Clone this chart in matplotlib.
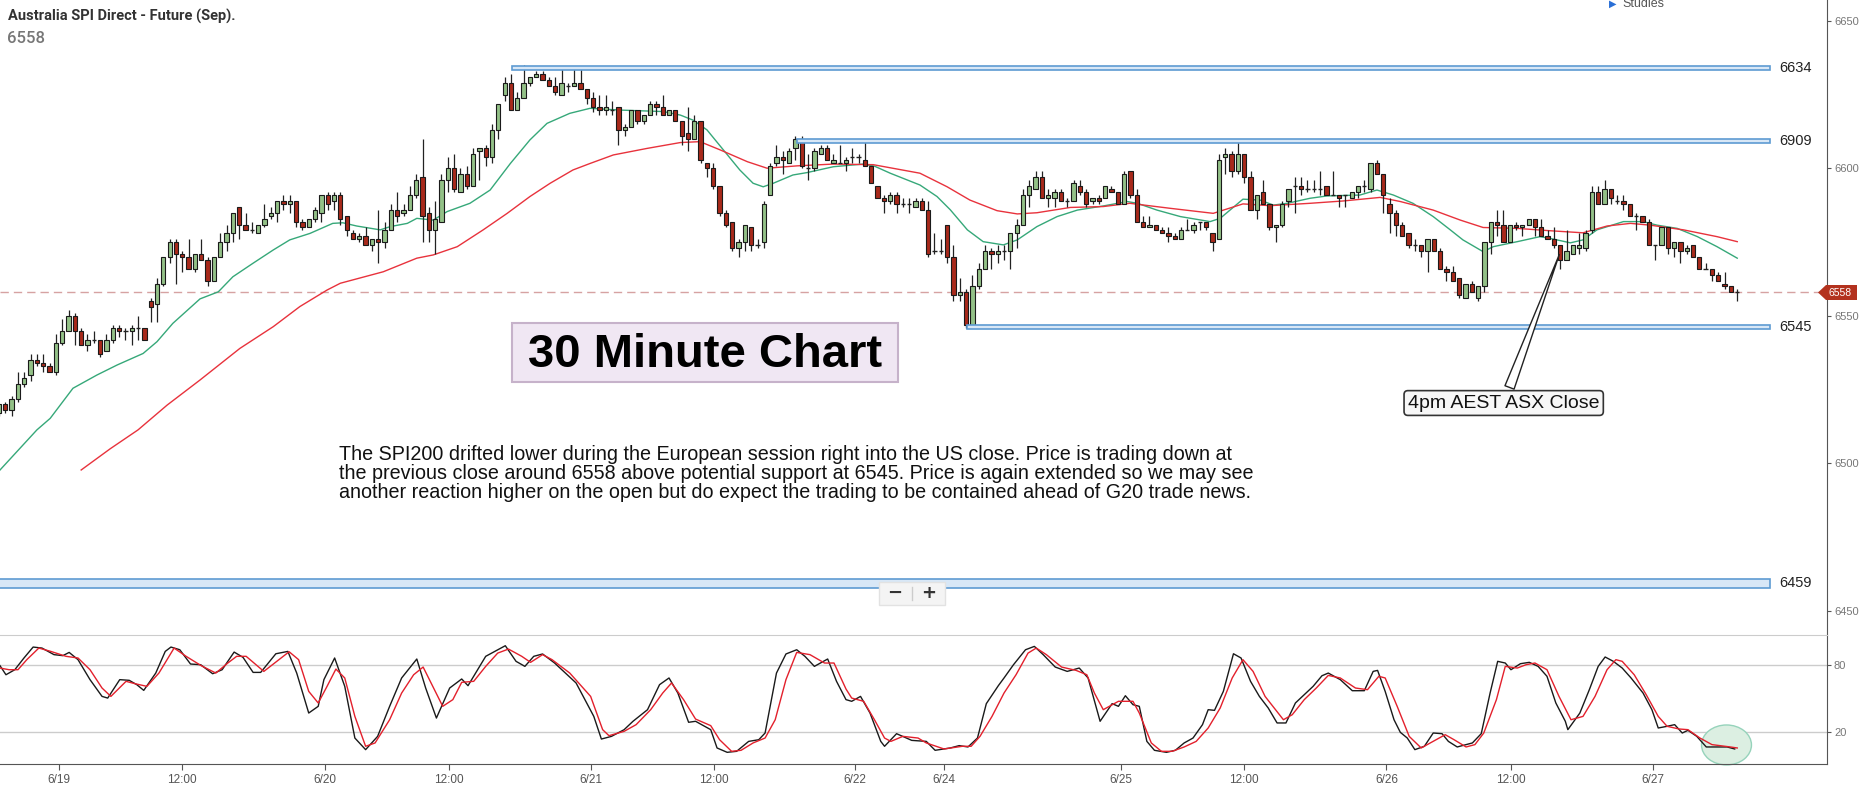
import matplotlib
matplotlib.use('Agg')
import matplotlib.pyplot as plt
from matplotlib.patches import Rectangle, Polygon, Ellipse
import numpy as np

plt.rcParams['font.family'] = ['Liberation Sans', 'DejaVu Sans']

# 30 minute bars, Australia SPI 200 (Sep) future
opens = [
    6517, 6520, 6518, 6522, 6527, 6530, 6535, 6534, 6533, 6531, 6541, 6545,
    6550, 6545, 6540, 6542, 6542, 6538, 6542, 6546, 6545, 6545, 6546, 6546,
    6555, 6554, 6561, 6570, 6575, 6571, 6570, 6566, 6571, 6569, 6562, 6570,
    6575, 6578, 6587, 6581, 6579, 6578, 6581, 6584, 6585, 6589, 6588, 6589,
    6582, 6580, 6583, 6585, 6591, 6589, 6591, 6584, 6578, 6576, 6577, 6574,
    6576, 6575, 6579, 6586, 6585, 6586, 6591, 6597, 6585, 6579, 6582, 6596,
    6600, 6592, 6598, 6594, 6606, 6607, 6604, 6613, 6625, 6629, 6620, 6624,
    6629, 6631, 6632, 6630, 6628, 6625, 6628, 6628, 6629, 6627, 6624, 6621,
    6620, 6620, 6621, 6613, 6614, 6620, 6616, 6618, 6622, 6621, 6618, 6620,
    6616, 6612, 6610, 6616, 6602, 6600, 6594, 6585, 6582, 6573, 6575, 6580,
    6574, 6575, 6591, 6602, 6604, 6602, 6607, 6610, 6600, 6600, 6605, 6607,
    6602, 6602, 6602, 6604, 6604, 6603, 6601, 6594, 6590, 6589, 6591, 6588,
    6588, 6587, 6589, 6586, 6572, 6572, 6581, 6570, 6557, 6558, 6547, 6560,
    6566, 6572, 6571, 6572, 6572, 6578, 6581, 6591, 6593, 6597, 6590, 6590,
    6592, 6589, 6589, 6594, 6592, 6589, 6590, 6590, 6593, 6592, 6588, 6599,
    6591, 6582, 6580, 6581, 6579, 6578, 6577, 6576, 6579, 6579, 6582, 6582,
    6578, 6576, 6604, 6605, 6599, 6605, 6597, 6586, 6592, 6588, 6580, 6581,
    6589, 6594, 6594, 6593, 6593, 6593, 6594, 6591, 6591, 6591, 6590, 6592,
    6594, 6593, 6602, 6598, 6588, 6585, 6581, 6578, 6574, 6574, 6572, 6576,
    6572, 6566, 6565, 6563, 6556, 6561, 6556, 6560, 6575, 6582, 6581, 6575,
    6581, 6580, 6581, 6583, 6580, 6577, 6576, 6574, 6569, 6571, 6573, 6573,
    6579, 6592, 6588, 6593, 6589, 6589, 6588, 6584, 6584, 6582, 6574, 6574,
    6580, 6573, 6575, 6572, 6574, 6570, 6566, 6566, 6564, 6561, 6560, 6558,
]
highs = [
    6520, 6521, 6523, 6531, 6531, 6537, 6537, 6537, 6534, 6544, 6549, 6552,
    6551, 6546, 6544, 6545, 6542, 6544, 6547, 6547, 6546, 6547, 6550, 6546,
    6556, 6563, 6570, 6576, 6576, 6572, 6576, 6571, 6576, 6570, 6570, 6578,
    6581, 6585, 6587, 6585, 6582, 6581, 6588, 6587, 6589, 6591, 6591, 6589,
    6583, 6583, 6587, 6591, 6592, 6592, 6592, 6584, 6579, 6578, 6580, 6576,
    6586, 6582, 6588, 6592, 6588, 6594, 6598, 6610, 6587, 6589, 6598, 6604,
    6605, 6600, 6601, 6607, 6607, 6608, 6615, 6622, 6631, 6632, 6626, 6635,
    6631, 6633, 6633, 6631, 6631, 6634, 6629, 6634, 6634, 6627, 6626, 6625,
    6625, 6623, 6621, 6615, 6620, 6620, 6618, 6623, 6623, 6625, 6620, 6620,
    6616, 6621, 6618, 6616, 6602, 6602, 6594, 6586, 6582, 6576, 6581, 6580,
    6576, 6589, 6602, 6608, 6606, 6607, 6611, 6611, 6605, 6607, 6608, 6608,
    6605, 6608, 6604, 6607, 6605, 6609, 6601, 6594, 6591, 6592, 6592, 6590,
    6590, 6590, 6590, 6589, 6578, 6576, 6581, 6574, 6563, 6559, 6564, 6568,
    6574, 6573, 6574, 6574, 6578, 6583, 6593, 6596, 6599, 6599, 6593, 6593,
    6593, 6590, 6596, 6596, 6593, 6590, 6591, 6594, 6594, 6592, 6599, 6599,
    6593, 6584, 6584, 6581, 6580, 6580, 6578, 6580, 6583, 6582, 6582, 6582,
    6578, 6605, 6607, 6606, 6610, 6605, 6599, 6591, 6596, 6588, 6581, 6589,
    6593, 6597, 6597, 6596, 6596, 6599, 6594, 6599, 6591, 6591, 6592, 6594,
    6596, 6602, 6603, 6598, 6590, 6586, 6582, 6578, 6576, 6574, 6576, 6576,
    6573, 6567, 6567, 6563, 6561, 6562, 6560, 6575, 6582, 6586, 6586, 6581,
    6582, 6581, 6583, 6583, 6583, 6579, 6580, 6574, 6579, 6574, 6578, 6579,
    6594, 6594, 6596, 6593, 6591, 6591, 6588, 6585, 6584, 6583, 6574, 6580,
    6580, 6575, 6575, 6574, 6574, 6570, 6568, 6566, 6565, 6565, 6560, 6559,
]
lows = [
    6516, 6517, 6516, 6521, 6526, 6528, 6533, 6531, 6531, 6530, 6540, 6545,
    6540, 6540, 6538, 6541, 6536, 6538, 6541, 6543, 6542, 6540, 6542, 6542,
    6548, 6548, 6560, 6568, 6561, 6565, 6566, 6565, 6569, 6560, 6562, 6570,
    6572, 6575, 6576, 6579, 6578, 6578, 6580, 6583, 6582, 6586, 6585, 6580,
    6579, 6580, 6582, 6582, 6586, 6586, 6581, 6577, 6576, 6575, 6574, 6572,
    6568, 6573, 6579, 6582, 6584, 6586, 6590, 6575, 6575, 6571, 6582, 6592,
    6592, 6592, 6593, 6594, 6596, 6601, 6602, 6610, 6623, 6620, 6620, 6624,
    6628, 6631, 6630, 6628, 6625, 6625, 6626, 6628, 6627, 6622, 6619, 6618,
    6618, 6618, 6608, 6611, 6614, 6615, 6615, 6618, 6618, 6618, 6618, 6616,
    6608, 6606, 6610, 6602, 6597, 6593, 6584, 6580, 6572, 6570, 6572, 6572,
    6573, 6573, 6591, 6601, 6598, 6602, 6603, 6600, 6596, 6599, 6605, 6603,
    6602, 6602, 6599, 6602, 6602, 6601, 6595, 6590, 6585, 6588, 6585, 6587,
    6585, 6587, 6586, 6570, 6571, 6571, 6568, 6555, 6555, 6546, 6547, 6559,
    6566, 6566, 6568, 6569, 6566, 6573, 6581, 6587, 6593, 6590, 6587, 6587,
    6589, 6587, 6589, 6591, 6587, 6588, 6588, 6590, 6592, 6588, 6588, 6590,
    6582, 6580, 6580, 6579, 6578, 6575, 6576, 6576, 6579, 6578, 6579, 6579,
    6572, 6576, 6598, 6597, 6598, 6595, 6586, 6583, 6588, 6579, 6575, 6580,
    6587, 6585, 6591, 6592, 6592, 6591, 6591, 6591, 6587, 6587, 6590, 6590,
    6592, 6592, 6598, 6585, 6578, 6577, 6577, 6573, 6572, 6570, 6565, 6572,
    6566, 6562, 6562, 6556, 6556, 6558, 6555, 6558, 6571, 6577, 6575, 6575,
    6579, 6577, 6581, 6577, 6577, 6576, 6573, 6566, 6569, 6571, 6571, 6572,
    6578, 6588, 6588, 6588, 6588, 6586, 6584, 6579, 6582, 6574, 6569, 6574,
    6571, 6570, 6568, 6571, 6570, 6566, 6566, 6562, 6562, 6559, 6558, 6555,
]
closes = [
    6520, 6518, 6522, 6527, 6529, 6535, 6534, 6533, 6531, 6541, 6545, 6550,
    6545, 6540, 6542, 6542, 6537, 6542, 6546, 6545, 6545, 6546, 6546, 6542,
    6553, 6561, 6570, 6575, 6571, 6570, 6566, 6571, 6569, 6562, 6570, 6575,
    6578, 6585, 6581, 6579, 6579, 6581, 6583, 6585, 6589, 6588, 6589, 6582,
    6580, 6583, 6586, 6591, 6588, 6591, 6583, 6579, 6576, 6577, 6574, 6576,
    6575, 6579, 6586, 6584, 6586, 6591, 6596, 6584, 6579, 6583, 6596, 6600,
    6593, 6598, 6594, 6605, 6607, 6604, 6613, 6622, 6629, 6620, 6624, 6629,
    6631, 6632, 6630, 6628, 6626, 6629, 6628, 6629, 6627, 6624, 6621, 6620,
    6621, 6620, 6613, 6614, 6620, 6616, 6618, 6622, 6621, 6618, 6620, 6616,
    6611, 6610, 6616, 6603, 6600, 6594, 6585, 6581, 6573, 6575, 6581, 6574,
    6574, 6588, 6601, 6604, 6603, 6606, 6610, 6601, 6600, 6606, 6607, 6603,
    6603, 6602, 6603, 6604, 6604, 6601, 6595, 6590, 6589, 6591, 6588, 6588,
    6588, 6589, 6586, 6571, 6572, 6572, 6570, 6557, 6558, 6547, 6560, 6566,
    6572, 6571, 6572, 6572, 6578, 6581, 6591, 6594, 6597, 6590, 6591, 6592,
    6589, 6589, 6595, 6592, 6588, 6590, 6589, 6594, 6592, 6588, 6598, 6591,
    6582, 6580, 6581, 6579, 6578, 6577, 6576, 6579, 6579, 6581, 6582, 6580,
    6575, 6603, 6605, 6599, 6605, 6597, 6586, 6591, 6588, 6580, 6581, 6588,
    6593, 6594, 6593, 6593, 6593, 6593, 6591, 6591, 6590, 6591, 6592, 6594,
    6594, 6602, 6598, 6591, 6585, 6581, 6577, 6574, 6574, 6572, 6576, 6572,
    6566, 6565, 6562, 6557, 6561, 6558, 6560, 6575, 6582, 6581, 6575, 6581,
    6580, 6581, 6583, 6580, 6577, 6576, 6574, 6569, 6572, 6574, 6574, 6578,
    6592, 6588, 6593, 6590, 6589, 6588, 6584, 6584, 6582, 6574, 6574, 6580,
    6573, 6575, 6572, 6573, 6570, 6566, 6566, 6564, 6562, 6560, 6558, 6558,
]

# moving averages (bar index, price)
fast_x = [0.16, 6.0, 8.1, 11.7, 15.5, 18.7, 22.8, 25.0, 27.5, 31.8, 34.7, 37.0,
          40.2, 43.4, 46.0, 49.2, 52.8, 54.4, 56.6, 60.3, 61.9, 64.6, 66.1, 68.7,
          70.9, 74.5, 77.7, 80.9, 84.0, 86.7, 90.3, 93.5, 98.3, 105.1, 107.8, 109.8,
          112.0, 114.6, 117.2, 119.3, 120.9, 122.5, 125.6, 127.8, 132.0, 136.7, 138.5, 141.0,
          145.7, 148.4, 150.5, 153.2, 155.7, 158.9, 161.1, 164.2, 167.4, 170.6, 174.7, 178.5,
          180.1, 183.2, 186.9, 191.6, 193.2, 196.8, 199.5, 201.6, 203.8, 207.4, 210.1, 215.3,
          218.0, 220.6, 223.7, 226.9, 229.6, 231.6, 234.8, 236.4, 240.2, 243.8, 245.4, 248.6,
          250.6, 252.8, 257.0, 260.1, 262.3, 265.5, 268.7, 271.8, 275.0]
fast_y = [6497.8, 6511.4, 6515.3, 6525.5, 6530.0, 6533.4, 6537.3, 6541.3, 6547.5, 6555.8, 6558.2, 6563.3,
          6567.9, 6572.4, 6575.8, 6578.0, 6581.4, 6581.6, 6580.5, 6579.2, 6580.3, 6581.4, 6583.1, 6582.5,
          6585.4, 6588.2, 6592.7, 6601.7, 6609.7, 6615.3, 6618.7, 6620.4, 6619.8, 6619.3, 6618.1, 6616.4,
          6613.1, 6606.3, 6599.5, 6595.0, 6593.8, 6595.0, 6597.8, 6598.6, 6600.6, 6601.5, 6600.8, 6598.4,
          6594.4, 6590.5, 6586.0, 6579.2, 6575.2, 6574.1, 6575.8, 6580.3, 6583.7, 6585.9, 6587.3, 6588.8,
          6588.2, 6585.9, 6583.7, 6582.0, 6583.1, 6589.6, 6589.3, 6587.6, 6588.2, 6589.9, 6590.7, 6591.0,
          6592.7, 6591.0, 6588.2, 6583.7, 6579.2, 6575.8, 6571.8, 6573.5, 6575.2, 6576.9, 6576.3, 6574.8,
          6575.8, 6579.2, 6582.0, 6582.0, 6580.8, 6579.7, 6576.9, 6573.5, 6569.6]
slow_x = [13.0, 17.6, 22.0, 26.6, 31.8, 38.1, 43.4, 47.6, 51.9, 54.0, 60.8, 66.1,
          68.7, 72.5, 76.6, 80.4, 84.0, 87.2, 90.8, 93.5, 97.2, 102.5, 107.8, 110.9,
          114.1, 118.4, 121.5, 126.3, 132.0, 138.3, 145.7, 150.0, 153.6, 157.9, 161.1, 164.2,
          169.5, 174.7, 178.9, 185.3, 192.1, 196.8, 201.1, 207.4, 212.7, 218.5, 221.7, 226.9,
          231.2, 234.8, 240.2, 245.4, 250.6, 254.4, 258.1, 261.2, 266.5, 271.8, 275.0]
slow_y = [6497.8, 6505.0, 6511.4, 6519.8, 6528.3, 6539.0, 6546.4, 6553.2, 6558.8, 6561.1, 6565.0, 6569.6,
          6570.7, 6573.5, 6579.2, 6584.8, 6590.5, 6595.0, 6599.5, 6601.7, 6604.6, 6606.8, 6608.8, 6609.1,
          6606.3, 6602.3, 6600.1, 6600.9, 6601.5, 6601.3, 6598.4, 6593.8, 6589.3, 6585.7, 6584.6, 6585.0,
          6586.8, 6587.1, 6588.2, 6586.5, 6584.8, 6588.0, 6587.4, 6588.2, 6589.0, 6590.2, 6588.8, 6585.9,
          6582.5, 6580.0, 6579.7, 6578.9, 6578.2, 6580.5, 6581.4, 6580.8, 6579.2, 6576.9, 6575.2]

# stochastic %K / %D
k_x = [0.16, 1.1, 2.5, 3.95, 5.4, 6.8, 8.7, 10.1, 11.1, 12.5,
       14.4, 16.3, 17.2, 19.1, 20.6, 21.8, 22.9, 24.8, 26.3, 27.2,
       28.6, 30.3, 31.9, 33.8, 35.3, 37.2, 38.6, 40.2, 41.4, 43.8,
       45.7, 47.1, 49.0, 50.5, 51.4, 53.1, 54.7, 56.3, 58.0, 59.9,
       61.8, 63.7, 66.1, 67.5, 69.2, 71.3, 73.2, 74.2, 75.1, 77.0,
       80.1, 81.8, 83.2, 84.6, 86.0, 87.9, 91.3, 94.1, 95.3, 96.9,
       98.9, 100.3, 102.6, 104.5, 106.0, 107.4, 109.1, 110.2, 112.6, 113.6,
       115.2, 116.7, 118.6, 120.2, 121.2, 123.0, 124.5, 126.2, 127.5, 129.0,
       131.1, 132.5, 134.0, 134.9, 136.3, 137.8, 139.5, 140.1, 142.0, 144.4,
       146.7, 148.1, 150.5, 151.9, 153.3, 154.8, 156.2, 158.1, 159.0, 160.5,
       162.4, 163.8, 165.2, 167.1, 169.0, 170.9, 172.3, 174.2, 176.1, 177.1,
       178.2, 179.4, 180.4, 181.6, 182.8, 184.7, 186.1, 187.5, 188.9, 190.4,
       191.3, 192.3, 193.7, 195.3, 196.5, 198.0, 199.4, 200.8, 202.2, 203.6,
       205.1, 206.5, 207.9, 209.3, 210.3, 212.2, 214.1, 216.0, 217.4, 218.1,
       219.3, 220.7, 221.7, 222.8, 224.0, 225.5, 226.9, 228.3, 229.3, 230.7,
       232.1, 233.1, 234.5, 235.9, 237.1, 238.3, 239.2, 240.7, 242.1, 243.5,
       244.9, 246.3, 247.8, 248.2, 250.1, 251.6, 253.0, 254.1, 255.4, 256.8,
       258.2, 260.1, 261.5, 262.5, 263.9, 265.1, 266.3, 267.2, 268.6, 270.1,
       272.0, 273.4, 274.6]
k_y = [79.4, 71.3, 75.8, 86.3, 96.1, 95.2, 89.3, 88.4, 91.3, 84.8,
       66.9, 51.9, 50.4, 66.9, 66.3, 62.4, 57.3, 72.8, 92.2, 96.1,
       93.7, 80.9, 80.3, 72.2, 75.8, 91.6, 86.9, 73.4, 73.4, 90.1,
       92.2, 72.8, 37.0, 43.0, 66.9, 86.3, 60.9, 14.6, 4.2, 16.1,
       43.0, 68.4, 85.4, 59.4, 32.5, 59.4, 67.5, 61.5, 69.9, 87.8,
       97.3, 83.3, 78.8, 87.8, 89.9, 81.8, 63.9, 34.0, 13.7, 16.1,
       22.1, 29.6, 40.0, 62.4, 68.4, 54.9, 28.7, 29.6, 22.1, 5.7,
       1.8, 2.7, 11.6, 13.1, 19.1, 72.8, 89.9, 93.7, 87.8, 78.8,
       85.4, 65.4, 49.0, 47.5, 51.9, 37.0, 11.6, 7.2, 18.5, 12.5,
       11.6, 3.6, 5.7, 7.8, 6.6, 14.6, 45.4, 61.5, 68.4, 80.3,
       93.7, 96.7, 89.3, 78.2, 74.3, 77.3, 68.4, 29.6, 45.4, 43.0,
       52.5, 44.5, 43.0, 11.6, 3.6, 1.8, 3.6, 10.2, 14.6, 26.6,
       40.0, 39.4, 56.4, 90.1, 86.3, 65.4, 51.9, 41.5, 28.1, 28.1,
       46.0, 53.4, 60.9, 70.4, 72.8, 66.9, 57.0, 57.0, 74.3, 75.2,
       56.4, 31.0, 19.7, 14.6, 4.2, 7.2, 19.1, 18.5, 11.6, 6.6,
       8.7, 10.2, 18.5, 54.9, 83.3, 81.8, 75.8, 81.2, 82.4, 78.8,
       69.9, 46.0, 29.6, 22.1, 37.0, 57.9, 78.8, 87.2, 83.3, 77.3,
       68.4, 54.9, 40.0, 23.6, 25.1, 26.6, 19.1, 21.5, 16.1, 6.6,
       6.6, 6.6, 4.8]
d_x = [0.16, 1.6, 3.0, 4.4, 6.3, 8.2, 10.6, 12.5, 14.4, 16.3,
       17.7, 20.1, 21.5, 23.4, 25.3, 27.7, 29.6, 32.0, 34.3, 36.2,
       37.6, 39.1, 41.9, 44.3, 45.9, 47.4, 49.0, 50.5, 51.9, 53.3,
       54.7, 56.3, 58.0, 59.5, 61.8, 63.7, 65.6, 67.1, 68.5, 70.2,
       71.8, 73.2, 75.1, 77.0, 78.9, 80.6, 82.7, 84.1, 86.0, 87.5,
       90.3, 93.6, 95.5, 96.5, 98.9, 100.8, 103.1, 105.0, 106.4, 108.3,
       110.2, 112.6, 114.0, 115.9, 117.4, 119.3, 121.2, 122.8, 124.5, 126.2,
       128.3, 130.6, 132.1, 134.0, 134.9, 136.8, 138.5, 140.1, 141.1, 143.0,
       145.4, 146.7, 149.5, 152.4, 153.8, 155.2, 157.1, 159.0, 160.9, 162.8,
       164.1, 165.7, 168.1, 170.4, 172.1, 173.3, 174.7, 177.1, 179.4, 180.4,
       182.3, 183.9, 185.6, 187.5, 189.4, 191.3, 193.2, 195.1, 196.8, 198.4,
       200.3, 203.2, 204.6, 206.5, 208.4, 210.3, 212.2, 214.6, 216.5, 218.3,
       219.3, 221.2, 223.1, 225.0, 226.9, 228.8, 230.2, 232.1, 233.5, 234.9,
       236.9, 238.3, 240.2, 241.6, 243.0, 244.9, 246.8, 248.7, 250.6, 252.5,
       254.4, 255.8, 256.8, 258.7, 260.6, 262.5, 263.9, 265.8, 267.2, 269.1,
       271.0, 273.9, 275.0]
d_y = [77.3, 75.8, 75.8, 84.8, 95.2, 92.2, 87.8, 86.3, 75.8, 59.4,
       51.9, 65.4, 63.3, 60.9, 72.8, 95.2, 87.8, 79.4, 72.8, 81.8,
       87.8, 87.8, 74.3, 84.8, 91.9, 84.8, 56.4, 46.0, 60.9, 76.4,
       68.4, 34.0, 7.2, 10.2, 31.0, 54.9, 71.3, 78.2, 62.4, 43.0,
       49.0, 64.5, 65.4, 78.8, 90.7, 94.3, 87.8, 82.4, 89.3, 84.8,
       72.8, 51.9, 22.1, 16.7, 20.6, 26.6, 40.0, 54.9, 63.9, 49.0,
       31.6, 25.7, 13.1, 2.7, 3.6, 10.2, 14.6, 31.0, 66.9, 91.3,
       89.3, 81.8, 81.8, 58.5, 50.4, 47.5, 31.0, 14.6, 11.6, 16.1,
       14.6, 10.2, 4.8, 7.2, 7.2, 16.1, 34.0, 54.9, 71.3, 90.7,
       95.2, 89.3, 78.2, 75.2, 71.3, 54.9, 40.0, 47.5, 47.5, 37.0,
       10.2, 2.7, 2.7, 6.6, 11.6, 23.6, 41.5, 68.4, 84.8, 74.3,
       51.9, 31.0, 35.5, 49.0, 59.4, 70.7, 68.4, 59.4, 57.9, 69.9,
       68.4, 43.0, 16.1, 5.7, 11.6, 17.6, 13.1, 6.6, 8.7, 19.1,
       49.0, 78.8, 77.3, 80.3, 81.8, 75.8, 51.9, 31.0, 34.0, 51.9,
       75.8, 84.8, 83.3, 71.3, 53.4, 34.0, 25.1, 22.7, 22.1, 14.6,
       8.7, 6.6, 5.7]

# drawn support / resistance bands (start bar, top, bottom) and their labels
level_start = [81.2, 126.3, 153.2, -1.0]
level_top = [6634.6, 6610.1, 6546.9, 6460.9]
level_bottom = [6633.5, 6608.8, 6545.5, 6457.8]
level_labels = ['6634', '6909', '6545', '6459']
last_price = 6558

tick_pos = [9.5, 29.0, 51.6, 71.2, 93.7, 113.1, 135.4, 149.5, 177.5, 197.0, 219.5, 239.2, 261.7]
tick_labels = ['6/19', '12:00', '6/20', '12:00', '6/21', '12:00', '6/22', '6/24',
               '6/25', '12:00', '6/26', '12:00', '6/27']

comment = [
    "The SPI200 drifted lower during the European session right into the US close. Price is trading down at",
    "the previous close around 6558 above potential support at 6545. Price is again extended so we may see",
    "another reaction higher on the open but do expect the trading to be contained ahead of G20 trade news.",
]

W, H = 1866, 795


def fpos(x, y):
    # pixel position (from top left) -> figure fraction
    return x / W, 1 - y / H


fig = plt.figure(figsize=(W / 100, H / 100), dpi=100)
ax = fig.add_axes([0, 1 - 635 / H, 1827 / W, 635 / H])
ax2 = fig.add_axes([0, 1 - 764 / H, 1827 / W, 129 / H])

xlim = (0.158, 289.2)
ax.set_xlim(*xlim)
ax.set_ylim(6441.86, 6657.12)
ax2.set_xlim(*xlim)
ax2.set_ylim(-8.66, 106.9)

# candles
o = np.array(opens, float)
h = np.array(highs, float)
l = np.array(lows, float)
c = np.array(closes, float)
idx = np.arange(len(o))
up = c > o
dn = c < o
flat = c == o
ax.vlines(idx, l, h, color='#222222', lw=0.9, zorder=3)
ax.bar(idx[up], (c - o)[up], bottom=o[up], width=0.68, color='#93c187',
       edgecolor='#1a1a1a', lw=0.8, zorder=4)
ax.bar(idx[dn], (o - c)[dn], bottom=c[dn], width=0.68, color='#a8291b',
       edgecolor='#1a1a1a', lw=0.8, zorder=4)
ax.hlines(o[flat], idx[flat] - 0.34, idx[flat] + 0.34, color='#222222', lw=1.0, zorder=4)

ax.plot(fast_x, fast_y, color='#36a879', lw=1.0, zorder=2)
ax.plot(slow_x, slow_y, color='#e8323c', lw=1.0, zorder=2)

# level bands
for s, top, bot, lab in zip(level_start, level_top, level_bottom, level_labels):
    ax.add_patch(Rectangle((s, bot), 280.2 - s, top - bot, facecolor='#d8e7f6',
                           edgecolor='#5e9bd2', lw=1.2, zorder=5))
    ax.text(281.6, (top + bot) / 2, lab, fontsize=10.5, color='#222222',
            va='center', ha='left', zorder=6)

ax.axhline(last_price, color='#d6a2a2', lw=1.0, ls=(0, (6, 3.6)), zorder=1)

for s in ['top', 'left', 'bottom']:
    ax.spines[s].set_visible(False)
ax.spines['right'].set_color('#555555')
ax.set_xticks([])
ax.yaxis.tick_right()
ax.set_yticks([6450, 6500, 6550, 6600, 6650])
ax.tick_params(axis='y', direction='out', length=3, color='#555555', labelsize=8,
               labelcolor='#777777', pad=2)

# stochastic panel
ax2.axhline(80, color='#cccccc', lw=1.0, zorder=1)
ax2.axhline(20, color='#cccccc', lw=1.0, zorder=1)
ax2.add_patch(Ellipse((273.3, 8.4), 7.9, 35.8, facecolor='#dcefe2', edgecolor='#96d3bb',
                      lw=1.0, zorder=1, clip_on=False))
ax2.plot(k_x, k_y, color='#1a1a1a', lw=1.0, zorder=3)
ax2.plot(d_x, d_y, color='#e3202c', lw=1.0, zorder=4)
ax2.spines['left'].set_visible(False)
ax2.spines['top'].set_color('#cccccc')
ax2.spines['right'].set_color('#555555')
ax2.spines['bottom'].set_color('#555555')
ax2.yaxis.tick_right()
ax2.set_yticks([20, 80])
ax2.tick_params(axis='y', direction='out', length=3, color='#555555', labelsize=8,
                labelcolor='#777777', pad=2)
ax2.set_xticks(tick_pos)
ax2.set_xticklabels(tick_labels)
ax2.tick_params(axis='x', direction='out', length=4, color='#555555', labelsize=8.5,
                labelcolor='#555555', pad=3)

# header
fig.text(*fpos(8, 21), 'Australia SPI Direct - Future (Sep).', fontsize=10.5,
         fontweight='bold', color='#333333', family=['Roboto', 'DejaVu Sans'], va='baseline')
fig.text(*fpos(7, 43), '6558', fontsize=12, fontweight='medium', color='#777777',
         family=['Roboto', 'DejaVu Sans'], va='baseline')
fig.text(*fpos(1609, 4), '\u25b6', fontsize=7, color='#2a6fd6', va='center',
         family=['DejaVu Sans'])
fig.text(*fpos(1622, 4), 'Studies', fontsize=9, color='#555555', va='center')

# last price tag on the axis
tag = [(1818, 292.5), (1826, 285), (1857, 285), (1857, 300), (1826, 300)]
fig.patches.append(Polygon([fpos(x, y) for x, y in tag], closed=True, facecolor='#b3321e',
                           edgecolor='none', transform=fig.transFigure, figure=fig))
fig.text(*fpos(1840, 292.5), str(last_price), fontsize=7.5, color='white',
         ha='center', va='center')

# chart title box
fig.patches.append(Rectangle(fpos(512, 382), 386 / W, 59 / H, facecolor='#f0e7f3',
                             edgecolor='#c6b2ca', lw=1.5, transform=fig.transFigure, figure=fig))
fig.text(*fpos(705, 367), '30 Minute Chart', fontsize=34, fontweight='bold',
         color='black', ha='center', va='baseline')

# commentary
for i, line in enumerate(comment):
    fig.text(*fpos(339, 460 + i * 18.9), line, fontsize=14.2, color='#111111', va='baseline')

# annotation for the ASX close
ax.annotate('4pm AEST ASX Close', xy=(247, 6571.7), xytext=(238.05, 6520.5),
            fontsize=14, ha='center', va='center', color='#111111', zorder=8,
            bbox=dict(boxstyle='round,pad=0.2', fc='#f7f7f7', ec='#333333', lw=1.2),
            arrowprops=dict(arrowstyle='wedge,tail_width=0.5,shrink_factor=0.5',
                            fc='white', ec='#222222', lw=1.0))

# zoom buttons
fig.patches.append(Rectangle(fpos(879, 605), 66 / W, 23 / H, facecolor='#f4f4f4',
                             edgecolor='#e2e2e2', lw=1.0, transform=fig.transFigure, figure=fig))
fig.lines.append(plt.Line2D([912 / W, 912 / W], [1 - 587 / H, 1 - 600 / H], color='#cccccc',
                            lw=1.0, transform=fig.transFigure, figure=fig))
fig.text(*fpos(895, 593), '\u2212', fontsize=13, fontweight='bold', color='#333333',
         ha='center', va='center', family=['DejaVu Sans'])
fig.text(*fpos(929, 593), '+', fontsize=13, fontweight='bold', color='#333333',
         ha='center', va='center', family=['DejaVu Sans'])

fig.savefig('out.png', dpi=100)
